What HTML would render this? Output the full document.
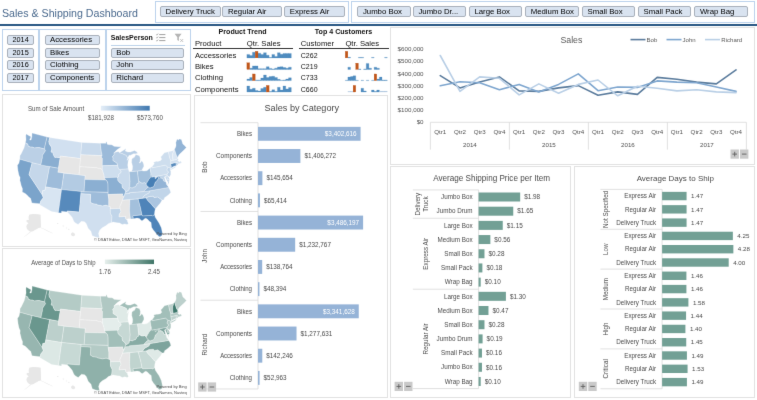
<!DOCTYPE html>
<html><head><meta charset="utf-8"><title>Sales &amp; Shipping Dashboard</title>
<style>
html,body{margin:0;padding:0;background:#fff;}
body{width:757px;height:400px;position:relative;overflow:hidden;filter:url(#soft);font-family:"Liberation Sans", sans-serif;}
svg text{font-family:"Liberation Sans", sans-serif;}
.abs{position:absolute;}
#title{left:1.6px;top:4.7px;font-size:11.7px;color:#4b6a8e;white-space:nowrap;transform-origin:0 0;transform:scaleX(0.909);line-height:16px;}
#rule{left:0;top:24px;width:757px;height:2px;background:#2a5884;}
.slbox{border:1px solid #bcd3ec;background:#fff;box-sizing:border-box;}
.btn{position:absolute;box-sizing:border-box;border:1px solid #a9b1bb;border-radius:2px;background:#d9e3f0;font-size:7.8px;line-height:8px;color:#000;white-space:nowrap;overflow:hidden;padding-left:4.5px;}
.panel{border:1px solid #e2e2e2;box-sizing:border-box;background:#fff;}
.tt{position:absolute;font-size:7.7px;line-height:9px;color:#111;white-space:nowrap;}
.tb{font-weight:700;font-size:7.1px;}

</style></head><body>
<svg width="0" height="0" style="position:absolute"><defs><filter id="soft" x="0" y="0" width="100%" height="100%" color-interpolation-filters="sRGB"><feConvolveMatrix order="3" kernelMatrix="0.0052 0.0619 0.0052 0.0619 0.7314 0.0619 0.0052 0.0619 0.0052" divisor="1" edgeMode="duplicate" preserveAlpha="true"/></filter></defs></svg>
<div id="title" class="abs">Sales &amp; Shipping Dashboard</div>
<div id="rule" class="abs"></div>
<div class="abs slbox" style="left:155px;top:1px;width:193.5px;height:22px"></div>
<div class="btn" style="left:160px;top:6px;width:60.8px;height:11px;line-height:9.4px">Delivery Truck</div>
<div class="btn" style="left:222.4px;top:6px;width:59.6px;height:11px;line-height:9.4px">Regular Air</div>
<div class="btn" style="left:284.3px;top:6px;width:60.4px;height:11px;line-height:9.4px">Express Air</div>
<div class="abs slbox" style="left:351px;top:1px;width:403.5px;height:22px"></div>
<div class="btn" style="left:357.4px;top:6px;width:53.4px;height:11px;line-height:9.4px">Jumbo Box</div>
<div class="btn" style="left:412.9px;top:6px;width:53.4px;height:11px;line-height:9.4px">Jumbo Dr...</div>
<div class="btn" style="left:468.9px;top:6px;width:53.4px;height:11px;line-height:9.4px">Large Box</div>
<div class="btn" style="left:525.2px;top:6px;width:53.4px;height:11px;line-height:9.4px">Medium Box</div>
<div class="btn" style="left:582px;top:6px;width:53.4px;height:11px;line-height:9.4px">Small Box</div>
<div class="btn" style="left:638px;top:6px;width:53.4px;height:11px;line-height:9.4px">Small Pack</div>
<div class="btn" style="left:694.4px;top:6px;width:53.4px;height:11px;line-height:9.4px">Wrap Bag</div>
<div class="abs slbox" style="left:2px;top:29px;width:37px;height:62px"></div>
<div class="abs slbox" style="left:39px;top:29px;width:67px;height:62px"></div>
<div class="abs slbox" style="left:106px;top:29px;width:85px;height:62px"></div>
<div class="btn" style="left:7px;top:35.3px;width:27px;height:10px;font-size:7.3px">2014</div>
<div class="btn" style="left:7px;top:47.7px;width:27px;height:10px;font-size:7.3px">2015</div>
<div class="btn" style="left:7px;top:60.1px;width:27px;height:10px;font-size:7.3px">2016</div>
<div class="btn" style="left:7px;top:72.5px;width:27px;height:10px;font-size:7.3px">2017</div>
<div class="btn" style="left:44.5px;top:35.3px;width:55.3px;height:10px">Accessories</div>
<div class="btn" style="left:44.5px;top:47.7px;width:55.3px;height:10px">Bikes</div>
<div class="btn" style="left:44.5px;top:60.1px;width:55.3px;height:10px">Clothing</div>
<div class="btn" style="left:44.5px;top:72.5px;width:55.3px;height:10px">Components</div>
<div class="tt tb" style="left:110.8px;top:33.2px;font-size:7px">SalesPerson</div>
<div class="abs" style="left:110.5px;top:44.6px;width:74.5px;height:0;border-top:1px solid #bcd3ea"></div>
<div class="btn" style="left:110.8px;top:48px;width:73.7px;height:9.8px">Bob</div>
<div class="btn" style="left:110.8px;top:60.3px;width:73.7px;height:9.8px">John</div>
<div class="btn" style="left:110.8px;top:73px;width:73.7px;height:9.8px">Richard</div>
<svg class="abs" style="left:155px;top:32px" width="32" height="12" viewBox="0 0 32 12">
<g stroke="#7f7f7f" stroke-width="0.75" fill="none"><path d="M4.2 2.6H10.4M4.2 5.6H10.4M4.2 8.6H10.4"/><path d="M1.2 2.4l.8.8 1.2-1.7M1.2 5.4l.8.8 1.2-1.7M1.2 8.4l.8.8 1.2-1.7" stroke-width="0.55"/></g>
<path d="M19.6 1.8h7l-2.7 3.4v3.9l-1.6-1.1V5.2z" fill="#b5b5b5"/><path d="M25.2 7l3 3M28.2 7l-3 3" stroke="#a8a8a8" stroke-width="0.65"/>
</svg>
<div class="tt tb" style="left:218.6px;top:28.2px">Product Trend</div>
<div class="tt tb" style="left:314.8px;top:28.2px">Top 4 Customers</div>
<div class="tt" style="left:194.9px;top:38.8px">Product</div>
<div class="tt" style="left:246.8px;top:38.8px">Qtr. Sales</div>
<div class="tt" style="left:300.8px;top:38.8px">Customer</div>
<div class="tt" style="left:345.4px;top:38.8px">Qtr. Sales</div>
<div class="abs" style="left:192.9px;top:47.6px;width:100px;height:1px;background:#333"></div>
<div class="abs" style="left:298.7px;top:47.6px;width:90.5px;height:1px;background:#333"></div>
<div class="tt" style="left:194.9px;top:50.5px">Accessories</div>
<div class="tt" style="left:194.9px;top:61.9px">Bikes</div>
<div class="tt" style="left:194.9px;top:73.1px">Clothing</div>
<div class="tt" style="left:194.9px;top:84.5px">Components</div>
<div class="tt" style="left:300.8px;top:50.5px;font-size:7px">C262</div>
<div class="tt" style="left:300.8px;top:61.9px;font-size:7px">C219</div>
<div class="tt" style="left:300.8px;top:73.1px;font-size:7px">C733</div>
<div class="tt" style="left:300.8px;top:84.5px;font-size:7px">C660</div>
<svg class="abs" style="left:0;top:0" width="757" height="100" viewBox="0 0 757 100"><path d="M246.90 57.90V54.40H249.68V57.90ZM249.68 57.90V55.40H252.45V57.90ZM252.45 57.90V52.27H255.23V57.90ZM258.00 57.90V53.15H260.77V57.90ZM260.77 57.90V54.40H263.55V57.90ZM263.55 57.90V52.65H266.32V57.90ZM266.32 57.90V55.15H269.10V57.90ZM269.10 57.90V57.52H271.88V57.90ZM271.88 57.90V54.40H274.65V57.90ZM274.65 57.90V56.40H277.42V57.90ZM277.43 57.90V52.65H280.20V57.90ZM280.20 57.90V54.15H282.97V57.90ZM282.98 57.90V53.40H285.75V57.90ZM285.75 57.90V53.40H288.52V57.90ZM288.52 57.90V53.40H291.30V57.90Z" fill="#4f8cc0" stroke="#4f8cc0" stroke-width="0.25"/><rect x="255.22" y="51.27" width="2.77" height="6.62" fill="#c0561a" stroke="#c0561a" stroke-width="0.25"/><path d="M249.68 69.40V68.15H252.45V69.40ZM252.45 69.40V65.90H255.23V69.40ZM255.22 69.40V65.90H258.00V69.40ZM258.00 69.40V68.78H260.77V69.40ZM260.77 69.40V68.78H263.55V69.40ZM263.55 69.40V68.78H266.32V69.40ZM266.32 69.40V66.65H269.10V69.40ZM269.10 69.40V68.40H271.88V69.40ZM271.88 69.40V69.03H274.65V69.40ZM274.65 69.40V68.15H277.42V69.40ZM277.43 69.40V66.90H280.20V69.40ZM280.20 69.40V66.65H282.97V69.40ZM282.98 69.40V67.53H285.75V69.40ZM285.75 69.40V68.15H288.52V69.40ZM288.52 69.40V67.15H291.30V69.40Z" fill="#4f8cc0" stroke="#4f8cc0" stroke-width="0.25"/><rect x="246.90" y="62.78" width="2.77" height="6.62" fill="#c0561a" stroke="#c0561a" stroke-width="0.25"/><path d="M246.90 80.60V79.10H249.68V80.60ZM249.68 80.60V77.47H252.45V80.60ZM255.22 80.60V79.97H258.00V80.60ZM258.00 80.60V79.97H260.77V80.60ZM260.77 80.60V78.10H263.55V80.60ZM263.55 80.60V74.97H266.32V80.60ZM266.32 80.60V77.47H269.10V80.60ZM269.10 80.60V76.60H271.88V80.60ZM271.88 80.60V76.22H274.65V80.60ZM274.65 80.60V77.47H277.42V80.60ZM277.43 80.60V79.35H280.20V80.60ZM280.20 80.60V80.22H282.97V80.60ZM282.98 80.60V79.97H285.75V80.60ZM285.75 80.60V79.10H288.52V80.60ZM288.52 80.60V77.85H291.30V80.60Z" fill="#4f8cc0" stroke="#4f8cc0" stroke-width="0.25"/><rect x="252.45" y="73.97" width="2.77" height="6.62" fill="#c0561a" stroke="#c0561a" stroke-width="0.25"/><path d="M246.90 92.00V86.00H249.68V92.00ZM249.68 92.00V89.25H252.45V92.00ZM252.45 92.00V88.25H255.23V92.00ZM255.22 92.00V90.50H258.00V92.00ZM258.00 92.00V91.00H260.77V92.00ZM260.77 92.00V88.50H263.55V92.00ZM263.55 92.00V87.25H266.32V92.00ZM269.10 92.00V91.62H271.88V92.00ZM271.88 92.00V89.75H274.65V92.00ZM274.65 92.00V91.62H277.42V92.00ZM277.43 92.00V87.25H280.20V92.00ZM280.20 92.00V90.12H282.97V92.00ZM282.98 92.00V86.00H285.75V92.00ZM285.75 92.00V88.88H288.52V92.00ZM288.52 92.00V87.62H291.30V92.00Z" fill="#4f8cc0" stroke="#4f8cc0" stroke-width="0.25"/><rect x="266.32" y="85.38" width="2.77" height="6.62" fill="#c0561a" stroke="#c0561a" stroke-width="0.25"/><path d="M347.88 57.90V57.27H350.50V57.90ZM358.38 57.90V57.40H361.00V57.90ZM361.00 57.90V57.40H363.62V57.90ZM371.50 57.90V57.40H374.12V57.90ZM384.62 57.90V57.40H387.25V57.90Z" fill="#4f8cc0" stroke="#4f8cc0" stroke-width="0.25"/><rect x="345.25" y="51.27" width="2.62" height="6.62" fill="#c0561a" stroke="#c0561a" stroke-width="0.25"/><path d="M347.88 69.40V67.15H350.50V69.40ZM358.38 69.40V69.03H361.00V69.40ZM363.62 69.40V69.03H366.25V69.40ZM366.25 69.40V63.40H368.88V69.40ZM368.88 69.40V68.15H371.50V69.40ZM374.12 69.40V67.15H376.75V69.40ZM376.75 69.40V68.15H379.38V69.40Z" fill="#4f8cc0" stroke="#4f8cc0" stroke-width="0.25"/><rect x="355.75" y="63.15" width="2.62" height="6.25" fill="#c0561a" stroke="#c0561a" stroke-width="0.25"/><path d="M345.25 80.60V80.22H347.88V80.60ZM347.88 80.60V77.10H350.50V80.60ZM350.50 80.60V76.60H353.12V80.60ZM353.12 80.60V75.85H355.75V80.60ZM355.75 80.60V80.22H358.38V80.60ZM361.00 80.60V80.22H363.62V80.60ZM366.25 80.60V80.22H368.88V80.60ZM371.50 80.60V80.22H374.12V80.60ZM376.75 80.60V79.10H379.38V80.60ZM379.38 80.60V77.10H382.00V80.60ZM382.00 80.60V79.97H384.62V80.60ZM384.62 80.60V79.97H387.25V80.60Z" fill="#4f8cc0" stroke="#4f8cc0" stroke-width="0.25"/><rect x="374.12" y="73.97" width="2.62" height="6.62" fill="#c0561a" stroke="#c0561a" stroke-width="0.25"/><path d="M361.00 92.00V88.25H363.62V92.00ZM363.62 92.00V91.00H366.25V92.00ZM371.50 92.00V90.12H374.12V92.00ZM374.12 92.00V91.62H376.75V92.00ZM376.75 92.00V90.12H379.38V92.00Z" fill="#4f8cc0" stroke="#4f8cc0" stroke-width="0.25"/><path d="M347.88 92.00V91.49H350.50V92.00ZM350.50 92.00V91.49H353.12V92.00ZM379.38 92.00V91.36H382.00V92.00ZM382.00 92.00V91.36H384.62V92.00ZM384.62 92.00V91.36H387.25V92.00Z" fill="#a9c4de" stroke="#a9c4de" stroke-width="0.25"/><rect x="353.12" y="85.38" width="2.62" height="6.62" fill="#c0561a" stroke="#c0561a" stroke-width="0.25"/></svg>
<div class="abs panel" style="left:390px;top:27px;width:365px;height:138px"></div>
<svg class="abs" style="left:0;top:0" width="757" height="400" viewBox="0 0 757 400"><text x="571.40" y="42.68" font-size="8.8" text-anchor="middle" fill="#595959" font-weight="400">Sales</text><text x="423.60" y="51.19" font-size="6.25" text-anchor="end" fill="#505050" font-weight="400">$600,000</text><text x="423.60" y="63.37" font-size="6.25" text-anchor="end" fill="#505050" font-weight="400">$500,000</text><text x="423.60" y="75.55" font-size="6.25" text-anchor="end" fill="#505050" font-weight="400">$400,000</text><text x="423.60" y="87.73" font-size="6.25" text-anchor="end" fill="#505050" font-weight="400">$300,000</text><text x="423.60" y="99.91" font-size="6.25" text-anchor="end" fill="#505050" font-weight="400">$200,000</text><text x="423.60" y="112.09" font-size="6.25" text-anchor="end" fill="#505050" font-weight="400">$100,000</text><text x="423.60" y="124.27" font-size="6.25" text-anchor="end" fill="#505050" font-weight="400">$0</text><line x1="430.40" y1="122.30" x2="746.30" y2="122.30" stroke="#d9d9d9" stroke-width="0.8"/><line x1="430.40" y1="122.30" x2="430.40" y2="149.60" stroke="#d9d9d9" stroke-width="0.8"/><line x1="509.40" y1="122.30" x2="509.40" y2="149.60" stroke="#d9d9d9" stroke-width="0.8"/><line x1="588.40" y1="122.30" x2="588.40" y2="149.60" stroke="#d9d9d9" stroke-width="0.8"/><line x1="667.40" y1="122.30" x2="667.40" y2="149.60" stroke="#d9d9d9" stroke-width="0.8"/><line x1="746.40" y1="122.30" x2="746.40" y2="149.60" stroke="#d9d9d9" stroke-width="0.8"/><text x="440.25" y="133.57" font-size="6.2" text-anchor="middle" fill="#505050" font-weight="400">Qtr1</text><text x="459.97" y="133.57" font-size="6.2" text-anchor="middle" fill="#505050" font-weight="400">Qtr2</text><text x="479.69" y="133.57" font-size="6.2" text-anchor="middle" fill="#505050" font-weight="400">Qtr3</text><text x="499.41" y="133.57" font-size="6.2" text-anchor="middle" fill="#505050" font-weight="400">Qtr4</text><text x="519.13" y="133.57" font-size="6.2" text-anchor="middle" fill="#505050" font-weight="400">Qtr1</text><text x="538.85" y="133.57" font-size="6.2" text-anchor="middle" fill="#505050" font-weight="400">Qtr2</text><text x="558.57" y="133.57" font-size="6.2" text-anchor="middle" fill="#505050" font-weight="400">Qtr3</text><text x="578.29" y="133.57" font-size="6.2" text-anchor="middle" fill="#505050" font-weight="400">Qtr4</text><text x="598.01" y="133.57" font-size="6.2" text-anchor="middle" fill="#505050" font-weight="400">Qtr1</text><text x="617.73" y="133.57" font-size="6.2" text-anchor="middle" fill="#505050" font-weight="400">Qtr2</text><text x="637.45" y="133.57" font-size="6.2" text-anchor="middle" fill="#505050" font-weight="400">Qtr3</text><text x="657.17" y="133.57" font-size="6.2" text-anchor="middle" fill="#505050" font-weight="400">Qtr4</text><text x="676.89" y="133.57" font-size="6.2" text-anchor="middle" fill="#505050" font-weight="400">Qtr1</text><text x="696.61" y="133.57" font-size="6.2" text-anchor="middle" fill="#505050" font-weight="400">Qtr2</text><text x="716.33" y="133.57" font-size="6.2" text-anchor="middle" fill="#505050" font-weight="400">Qtr3</text><text x="736.05" y="133.57" font-size="6.2" text-anchor="middle" fill="#505050" font-weight="400">Qtr4</text><text x="469.90" y="147.07" font-size="6.2" text-anchor="middle" fill="#505050" font-weight="400">2014</text><text x="548.90" y="147.07" font-size="6.2" text-anchor="middle" fill="#505050" font-weight="400">2015</text><text x="627.90" y="147.07" font-size="6.2" text-anchor="middle" fill="#505050" font-weight="400">2016</text><text x="706.90" y="147.07" font-size="6.2" text-anchor="middle" fill="#505050" font-weight="400">2017</text><polyline points="440.25,75.60 459.97,87.90 479.69,82.10 499.41,76.90 519.13,90.90 538.85,91.40 558.57,87.90 578.29,85.60 598.01,95.20 617.73,91.90 637.45,94.40 657.17,77.40 676.89,79.20 696.61,82.10 716.33,83.90 736.05,69.90" fill="none" stroke="#5b7c9d" stroke-width="1.6" stroke-linejoin="round" stroke-linecap="round"/><polyline points="440.25,85.80 459.97,81.80 479.69,82.70 499.41,89.70 519.13,84.40 538.85,91.90 558.57,84.40 578.29,73.90 598.01,90.70 617.73,87.00 637.45,87.40 657.17,80.90 676.89,82.10 696.61,82.70 716.33,87.00 736.05,91.40" fill="none" stroke="#7ea6cf" stroke-width="1.6" stroke-linejoin="round" stroke-linecap="round"/><polyline points="440.25,55.50 459.97,91.40 479.69,76.90 499.41,78.30 519.13,94.90 538.85,83.90 558.57,93.20 578.29,84.40 598.01,80.00 617.73,95.80 637.45,86.20 657.17,88.20 676.89,90.90 696.61,89.70 716.33,91.90 736.05,92.60" fill="none" stroke="#b9cfe6" stroke-width="1.6" stroke-linejoin="round" stroke-linecap="round"/><line x1="630.50" y1="39.60" x2="645.50" y2="39.60" stroke="#5b7c9d" stroke-width="1.6"/><text x="646.50" y="41.72" font-size="6.05" text-anchor="start" fill="#595959" font-weight="400">Bob</text><line x1="666.50" y1="39.60" x2="681.50" y2="39.60" stroke="#7ea6cf" stroke-width="1.6"/><text x="682.50" y="41.72" font-size="6.05" text-anchor="start" fill="#595959" font-weight="400">John</text><line x1="705.00" y1="39.60" x2="720.00" y2="39.60" stroke="#b9cfe6" stroke-width="1.6"/><text x="721.30" y="41.72" font-size="6.05" text-anchor="start" fill="#595959" font-weight="400">Richard</text><rect x="730.50" y="149.50" width="8.40" height="9.20" fill="#c9c9c9"/><rect x="740.00" y="149.50" width="8.40" height="9.20" fill="#c9c9c9"/><path d="M732.4 154.1H737.0M734.7 151.8V156.4" stroke="#5a5a5a" stroke-width="0.85" fill="none"/><path d="M741.9 154.1H746.5" stroke="#5a5a5a" stroke-width="0.85" fill="none"/></svg>
<div class="abs panel" style="left:194px;top:95px;width:194px;height:303px"></div>
<svg class="abs" style="left:0;top:0" width="757" height="400" viewBox="0 0 757 400"><text x="301.80" y="111.00" font-size="9.15" text-anchor="middle" fill="#4a4a4a" font-weight="400">Sales by Category</text><line x1="200.50" y1="122.70" x2="258.00" y2="122.70" stroke="#d9d9d9" stroke-width="0.8"/><line x1="200.50" y1="211.46" x2="258.00" y2="211.46" stroke="#d9d9d9" stroke-width="0.8"/><line x1="200.50" y1="300.22" x2="258.00" y2="300.22" stroke="#d9d9d9" stroke-width="0.8"/><line x1="200.50" y1="388.98" x2="258.00" y2="388.98" stroke="#d9d9d9" stroke-width="0.8"/><line x1="258.00" y1="122.70" x2="258.00" y2="388.98" stroke="#d9d9d9" stroke-width="0.8"/><rect x="258.00" y="126.85" width="102.59" height="13.90" fill="#95b3d7"/><text x="252.00" y="136.02" font-size="6.35" text-anchor="end" fill="#4a4a4a" font-weight="400" transform="translate(252 0) scale(0.97 1) translate(-252 0)">Bikes</text><text x="356.59" y="136.02" font-size="6.35" text-anchor="end" fill="#ffffff" font-weight="400">$3,402,616</text><rect x="258.00" y="149.04" width="42.40" height="13.90" fill="#95b3d7"/><text x="252.00" y="158.21" font-size="6.35" text-anchor="end" fill="#4a4a4a" font-weight="400">Components</text><text x="304.40" y="158.21" font-size="6.35" text-anchor="start" fill="#4a4a4a" font-weight="400">$1,406,272</text><rect x="258.00" y="171.23" width="4.39" height="13.90" fill="#95b3d7"/><text x="252.00" y="180.40" font-size="6.35" text-anchor="end" fill="#4a4a4a" font-weight="400" transform="translate(252 0) scale(0.93 1) translate(-252 0)">Accessories</text><text x="266.39" y="180.40" font-size="6.35" text-anchor="start" fill="#4a4a4a" font-weight="400">$145,654</text><rect x="258.00" y="193.42" width="1.97" height="13.90" fill="#95b3d7"/><text x="252.00" y="202.59" font-size="6.35" text-anchor="end" fill="#4a4a4a" font-weight="400" transform="translate(252 0) scale(0.96 1) translate(-252 0)">Clothing</text><text x="263.97" y="202.59" font-size="6.35" text-anchor="start" fill="#4a4a4a" font-weight="400">$65,414</text><rect x="258.00" y="215.61" width="105.11" height="13.90" fill="#95b3d7"/><text x="252.00" y="224.78" font-size="6.35" text-anchor="end" fill="#4a4a4a" font-weight="400" transform="translate(252 0) scale(0.97 1) translate(-252 0)">Bikes</text><text x="359.11" y="224.78" font-size="6.35" text-anchor="end" fill="#ffffff" font-weight="400">$3,486,197</text><rect x="258.00" y="237.80" width="37.17" height="13.90" fill="#95b3d7"/><text x="252.00" y="246.97" font-size="6.35" text-anchor="end" fill="#4a4a4a" font-weight="400">Components</text><text x="299.17" y="246.97" font-size="6.35" text-anchor="start" fill="#4a4a4a" font-weight="400">$1,232,767</text><rect x="258.00" y="259.99" width="4.18" height="13.90" fill="#95b3d7"/><text x="252.00" y="269.16" font-size="6.35" text-anchor="end" fill="#4a4a4a" font-weight="400" transform="translate(252 0) scale(0.93 1) translate(-252 0)">Accessories</text><text x="266.18" y="269.16" font-size="6.35" text-anchor="start" fill="#4a4a4a" font-weight="400">$138,764</text><rect x="258.00" y="282.18" width="1.46" height="13.90" fill="#95b3d7"/><text x="252.00" y="291.35" font-size="6.35" text-anchor="end" fill="#4a4a4a" font-weight="400" transform="translate(252 0) scale(0.96 1) translate(-252 0)">Clothing</text><text x="263.46" y="291.35" font-size="6.35" text-anchor="start" fill="#4a4a4a" font-weight="400">$48,394</text><rect x="258.00" y="304.37" width="100.75" height="13.90" fill="#95b3d7"/><text x="252.00" y="313.54" font-size="6.35" text-anchor="end" fill="#4a4a4a" font-weight="400" transform="translate(252 0) scale(0.97 1) translate(-252 0)">Bikes</text><text x="354.75" y="313.54" font-size="6.35" text-anchor="end" fill="#ffffff" font-weight="400">$3,341,628</text><rect x="258.00" y="326.56" width="38.52" height="13.90" fill="#95b3d7"/><text x="252.00" y="335.73" font-size="6.35" text-anchor="end" fill="#4a4a4a" font-weight="400">Components</text><text x="300.52" y="335.73" font-size="6.35" text-anchor="start" fill="#4a4a4a" font-weight="400">$1,277,631</text><rect x="258.00" y="348.75" width="4.29" height="13.90" fill="#95b3d7"/><text x="252.00" y="357.92" font-size="6.35" text-anchor="end" fill="#4a4a4a" font-weight="400" transform="translate(252 0) scale(0.93 1) translate(-252 0)">Accessories</text><text x="266.29" y="357.92" font-size="6.35" text-anchor="start" fill="#4a4a4a" font-weight="400">$142,246</text><rect x="258.00" y="370.94" width="1.60" height="13.90" fill="#95b3d7"/><text x="252.00" y="380.11" font-size="6.35" text-anchor="end" fill="#4a4a4a" font-weight="400" transform="translate(252 0) scale(0.96 1) translate(-252 0)">Clothing</text><text x="263.60" y="380.11" font-size="6.35" text-anchor="start" fill="#4a4a4a" font-weight="400">$52,963</text><text x="204.90" y="169.30" font-size="6.35" text-anchor="middle" fill="#4a4a4a" font-weight="400" transform="rotate(-90 204.9 167.08)">Bob</text><text x="204.90" y="258.06" font-size="6.35" text-anchor="middle" fill="#4a4a4a" font-weight="400" transform="rotate(-90 204.9 255.84000000000003)">John</text><text x="204.90" y="346.82" font-size="6.35" text-anchor="middle" fill="#4a4a4a" font-weight="400" transform="rotate(-90 204.9 344.6)">Richard</text><rect x="198.20" y="382.40" width="8.40" height="9.20" fill="#c9c9c9"/><rect x="207.70" y="382.40" width="8.40" height="9.20" fill="#c9c9c9"/><path d="M200.1 387.0H204.7M202.39999999999998 384.7V389.29999999999995" stroke="#5a5a5a" stroke-width="0.85" fill="none"/><path d="M209.6 387.0H214.2" stroke="#5a5a5a" stroke-width="0.85" fill="none"/></svg>
<div class="abs panel" style="left:390px;top:166.2px;width:181.1px;height:231.6px"></div>
<svg class="abs" style="left:0;top:0" width="757" height="400" viewBox="0 0 757 400"><text x="491.60" y="180.85" font-size="8.14" text-anchor="middle" fill="#4a4a4a" font-weight="400">Average Shipping Price per Item</text><line x1="412.90" y1="189.90" x2="478.60" y2="189.90" stroke="#d9d9d9" stroke-width="0.8"/><line x1="412.90" y1="218.28" x2="478.60" y2="218.28" stroke="#d9d9d9" stroke-width="0.8"/><line x1="412.90" y1="289.23" x2="478.60" y2="289.23" stroke="#d9d9d9" stroke-width="0.8"/><line x1="412.90" y1="388.56" x2="478.60" y2="388.56" stroke="#d9d9d9" stroke-width="0.8"/><line x1="478.60" y1="189.90" x2="478.60" y2="388.56" stroke="#d9d9d9" stroke-width="0.8"/><rect x="478.60" y="192.50" width="41.58" height="9.00" fill="#72a095"/><text x="472.60" y="199.20" font-size="6.3" text-anchor="end" fill="#4a4a4a" font-weight="400">Jumbo Box</text><text x="524.18" y="199.24" font-size="6.4" text-anchor="start" fill="#4a4a4a" font-weight="400">$1.98</text><rect x="478.60" y="206.69" width="34.65" height="9.00" fill="#72a095"/><text x="472.60" y="213.39" font-size="6.3" text-anchor="end" fill="#4a4a4a" font-weight="400">Jumbo Drum</text><text x="517.25" y="213.43" font-size="6.4" text-anchor="start" fill="#4a4a4a" font-weight="400">$1.65</text><rect x="478.60" y="220.88" width="24.15" height="9.00" fill="#72a095"/><text x="472.60" y="227.58" font-size="6.3" text-anchor="end" fill="#4a4a4a" font-weight="400">Large Box</text><text x="506.75" y="227.62" font-size="6.4" text-anchor="start" fill="#4a4a4a" font-weight="400">$1.15</text><rect x="478.60" y="235.06" width="11.76" height="9.00" fill="#72a095"/><text x="472.60" y="241.77" font-size="6.3" text-anchor="end" fill="#4a4a4a" font-weight="400">Medium Box</text><text x="494.36" y="241.81" font-size="6.4" text-anchor="start" fill="#4a4a4a" font-weight="400">$0.56</text><rect x="478.60" y="249.25" width="5.88" height="9.00" fill="#72a095"/><text x="472.60" y="255.96" font-size="6.3" text-anchor="end" fill="#4a4a4a" font-weight="400">Small Box</text><text x="488.48" y="256.00" font-size="6.4" text-anchor="start" fill="#4a4a4a" font-weight="400">$0.28</text><rect x="478.60" y="263.44" width="3.78" height="9.00" fill="#72a095"/><text x="472.60" y="270.15" font-size="6.3" text-anchor="end" fill="#4a4a4a" font-weight="400">Small Pack</text><text x="486.38" y="270.19" font-size="6.4" text-anchor="start" fill="#4a4a4a" font-weight="400">$0.18</text><rect x="478.60" y="277.63" width="2.10" height="9.00" fill="#72a095"/><text x="472.60" y="284.34" font-size="6.3" text-anchor="end" fill="#4a4a4a" font-weight="400">Wrap Bag</text><text x="484.70" y="284.38" font-size="6.4" text-anchor="start" fill="#4a4a4a" font-weight="400">$0.10</text><rect x="478.60" y="291.82" width="27.30" height="9.00" fill="#72a095"/><text x="472.60" y="298.53" font-size="6.3" text-anchor="end" fill="#4a4a4a" font-weight="400">Large Box</text><text x="509.90" y="298.56" font-size="6.4" text-anchor="start" fill="#4a4a4a" font-weight="400">$1.30</text><rect x="478.60" y="306.01" width="9.87" height="9.00" fill="#72a095"/><text x="472.60" y="312.72" font-size="6.3" text-anchor="end" fill="#4a4a4a" font-weight="400">Medium Box</text><text x="492.47" y="312.75" font-size="6.4" text-anchor="start" fill="#4a4a4a" font-weight="400">$0.47</text><rect x="478.60" y="320.21" width="5.88" height="9.00" fill="#72a095"/><text x="472.60" y="326.91" font-size="6.3" text-anchor="end" fill="#4a4a4a" font-weight="400">Small Box</text><text x="488.48" y="326.95" font-size="6.4" text-anchor="start" fill="#4a4a4a" font-weight="400">$0.28</text><rect x="478.60" y="334.39" width="3.99" height="9.00" fill="#72a095"/><text x="472.60" y="341.10" font-size="6.3" text-anchor="end" fill="#4a4a4a" font-weight="400">Jumbo Drum</text><text x="486.59" y="341.13" font-size="6.4" text-anchor="start" fill="#4a4a4a" font-weight="400">$0.19</text><rect x="478.60" y="348.59" width="3.36" height="9.00" fill="#72a095"/><text x="472.60" y="355.29" font-size="6.3" text-anchor="end" fill="#4a4a4a" font-weight="400">Small Pack</text><text x="485.96" y="355.33" font-size="6.4" text-anchor="start" fill="#4a4a4a" font-weight="400">$0.16</text><rect x="478.60" y="362.77" width="3.36" height="9.00" fill="#72a095"/><text x="472.60" y="369.48" font-size="6.3" text-anchor="end" fill="#4a4a4a" font-weight="400">Jumbo Box</text><text x="485.96" y="369.51" font-size="6.4" text-anchor="start" fill="#4a4a4a" font-weight="400">$0.16</text><rect x="478.60" y="376.97" width="2.10" height="9.00" fill="#72a095"/><text x="472.60" y="383.67" font-size="6.3" text-anchor="end" fill="#4a4a4a" font-weight="400">Wrap Bag</text><text x="484.70" y="383.71" font-size="6.4" text-anchor="start" fill="#4a4a4a" font-weight="400">$0.10</text><text x="417.60" y="206.30" font-size="6.3" text-anchor="middle" fill="#4a4a4a" font-weight="400" transform="rotate(-90 417.6 204.09)">Delivery</text><text x="426.20" y="206.30" font-size="6.3" text-anchor="middle" fill="#4a4a4a" font-weight="400" transform="rotate(-90 426.2 204.09)">Truck</text><text x="425.50" y="255.96" font-size="6.3" text-anchor="middle" fill="#4a4a4a" font-weight="400" transform="rotate(-90 425.5 253.755)">Express Air</text><text x="425.50" y="341.10" font-size="6.3" text-anchor="middle" fill="#4a4a4a" font-weight="400" transform="rotate(-90 425.5 338.895)">Regular Air</text><rect x="394.60" y="381.80" width="8.40" height="9.20" fill="#c9c9c9"/><rect x="404.10" y="381.80" width="8.40" height="9.20" fill="#c9c9c9"/><path d="M396.5 386.40000000000003H401.1M398.8 384.1V388.7" stroke="#5a5a5a" stroke-width="0.85" fill="none"/><path d="M406.0 386.40000000000003H410.6" stroke="#5a5a5a" stroke-width="0.85" fill="none"/></svg>
<div class="abs panel" style="left:573.7px;top:166.2px;width:181.1px;height:231.6px"></div>
<svg class="abs" style="left:0;top:0" width="757" height="400" viewBox="0 0 757 400"><text x="675.30" y="180.80" font-size="8.0" text-anchor="middle" fill="#4a4a4a" font-weight="400">Average Days to Ship</text><line x1="600.40" y1="189.40" x2="662.10" y2="189.40" stroke="#d9d9d9" stroke-width="0.8"/><line x1="600.40" y1="229.27" x2="662.10" y2="229.27" stroke="#d9d9d9" stroke-width="0.8"/><line x1="600.40" y1="269.14" x2="662.10" y2="269.14" stroke="#d9d9d9" stroke-width="0.8"/><line x1="600.40" y1="309.01" x2="662.10" y2="309.01" stroke="#d9d9d9" stroke-width="0.8"/><line x1="600.40" y1="348.88" x2="662.10" y2="348.88" stroke="#d9d9d9" stroke-width="0.8"/><line x1="600.40" y1="388.75" x2="662.10" y2="388.75" stroke="#d9d9d9" stroke-width="0.8"/><line x1="662.10" y1="189.40" x2="662.10" y2="388.75" stroke="#d9d9d9" stroke-width="0.8"/><rect x="662.10" y="191.85" width="24.48" height="8.40" fill="#72a095"/><text x="656.10" y="198.25" font-size="6.3" text-anchor="end" fill="#4a4a4a" font-weight="400">Express Air</text><text x="691.08" y="198.22" font-size="6.2" text-anchor="start" fill="#4a4a4a" font-weight="400">1.47</text><rect x="662.10" y="205.14" width="24.48" height="8.40" fill="#72a095"/><text x="656.10" y="211.54" font-size="6.3" text-anchor="end" fill="#4a4a4a" font-weight="400">Regular Air</text><text x="691.08" y="211.50" font-size="6.2" text-anchor="start" fill="#4a4a4a" font-weight="400">1.47</text><rect x="662.10" y="218.43" width="24.48" height="8.40" fill="#72a095"/><text x="656.10" y="224.83" font-size="6.3" text-anchor="end" fill="#4a4a4a" font-weight="400">Delivery Truck</text><text x="691.08" y="224.79" font-size="6.2" text-anchor="start" fill="#4a4a4a" font-weight="400">1.47</text><rect x="662.10" y="231.72" width="70.76" height="8.40" fill="#72a095"/><text x="656.10" y="238.12" font-size="6.3" text-anchor="end" fill="#4a4a4a" font-weight="400">Express Air</text><text x="737.36" y="238.09" font-size="6.2" text-anchor="start" fill="#4a4a4a" font-weight="400">4.25</text><rect x="662.10" y="245.00" width="71.26" height="8.40" fill="#72a095"/><text x="656.10" y="251.41" font-size="6.3" text-anchor="end" fill="#4a4a4a" font-weight="400">Regular Air</text><text x="737.86" y="251.37" font-size="6.2" text-anchor="start" fill="#4a4a4a" font-weight="400">4.28</text><rect x="662.10" y="258.30" width="66.60" height="8.40" fill="#72a095"/><text x="656.10" y="264.70" font-size="6.3" text-anchor="end" fill="#4a4a4a" font-weight="400">Delivery Truck</text><text x="733.20" y="264.67" font-size="6.2" text-anchor="start" fill="#4a4a4a" font-weight="400">4.00</text><rect x="662.10" y="271.58" width="24.31" height="8.40" fill="#72a095"/><text x="656.10" y="277.99" font-size="6.3" text-anchor="end" fill="#4a4a4a" font-weight="400">Express Air</text><text x="690.91" y="277.95" font-size="6.2" text-anchor="start" fill="#4a4a4a" font-weight="400">1.46</text><rect x="662.10" y="284.88" width="24.31" height="8.40" fill="#72a095"/><text x="656.10" y="291.28" font-size="6.3" text-anchor="end" fill="#4a4a4a" font-weight="400">Regular Air</text><text x="690.91" y="291.25" font-size="6.2" text-anchor="start" fill="#4a4a4a" font-weight="400">1.46</text><rect x="662.10" y="298.17" width="26.31" height="8.40" fill="#72a095"/><text x="656.10" y="304.57" font-size="6.3" text-anchor="end" fill="#4a4a4a" font-weight="400">Delivery Truck</text><text x="692.91" y="304.54" font-size="6.2" text-anchor="start" fill="#4a4a4a" font-weight="400">1.58</text><rect x="662.10" y="311.45" width="23.98" height="8.40" fill="#72a095"/><text x="656.10" y="317.86" font-size="6.3" text-anchor="end" fill="#4a4a4a" font-weight="400">Express Air</text><text x="690.58" y="317.82" font-size="6.2" text-anchor="start" fill="#4a4a4a" font-weight="400">1.44</text><rect x="662.10" y="324.75" width="23.31" height="8.40" fill="#72a095"/><text x="656.10" y="331.15" font-size="6.3" text-anchor="end" fill="#4a4a4a" font-weight="400">Regular Air</text><text x="689.91" y="331.12" font-size="6.2" text-anchor="start" fill="#4a4a4a" font-weight="400">1.40</text><rect x="662.10" y="338.04" width="24.14" height="8.40" fill="#72a095"/><text x="656.10" y="344.44" font-size="6.3" text-anchor="end" fill="#4a4a4a" font-weight="400">Delivery Truck</text><text x="690.74" y="344.41" font-size="6.2" text-anchor="start" fill="#4a4a4a" font-weight="400">1.45</text><rect x="662.10" y="351.32" width="24.81" height="8.40" fill="#72a095"/><text x="656.10" y="357.73" font-size="6.3" text-anchor="end" fill="#4a4a4a" font-weight="400">Express Air</text><text x="691.41" y="357.69" font-size="6.2" text-anchor="start" fill="#4a4a4a" font-weight="400">1.49</text><rect x="662.10" y="364.62" width="25.47" height="8.40" fill="#72a095"/><text x="656.10" y="371.02" font-size="6.3" text-anchor="end" fill="#4a4a4a" font-weight="400">Regular Air</text><text x="692.07" y="370.99" font-size="6.2" text-anchor="start" fill="#4a4a4a" font-weight="400">1.53</text><rect x="662.10" y="377.91" width="24.81" height="8.40" fill="#72a095"/><text x="656.10" y="384.31" font-size="6.3" text-anchor="end" fill="#4a4a4a" font-weight="400">Delivery Truck</text><text x="691.41" y="384.28" font-size="6.2" text-anchor="start" fill="#4a4a4a" font-weight="400">1.49</text><text x="605.60" y="211.54" font-size="6.3" text-anchor="middle" fill="#4a4a4a" font-weight="400" transform="rotate(-90 605.6 209.335)">Not Specified</text><text x="605.60" y="251.41" font-size="6.3" text-anchor="middle" fill="#4a4a4a" font-weight="400" transform="rotate(-90 605.6 249.20499999999998)">Low</text><text x="605.60" y="291.28" font-size="6.3" text-anchor="middle" fill="#4a4a4a" font-weight="400" transform="rotate(-90 605.6 289.075)">Medium</text><text x="605.60" y="331.15" font-size="6.3" text-anchor="middle" fill="#4a4a4a" font-weight="400" transform="rotate(-90 605.6 328.945)">High</text><text x="605.60" y="371.02" font-size="6.3" text-anchor="middle" fill="#4a4a4a" font-weight="400" transform="rotate(-90 605.6 368.815)">Critical</text><rect x="578.80" y="381.80" width="8.40" height="9.20" fill="#c9c9c9"/><rect x="588.30" y="381.80" width="8.40" height="9.20" fill="#c9c9c9"/><path d="M580.6999999999999 386.40000000000003H585.3M583.0 384.1V388.7" stroke="#5a5a5a" stroke-width="0.85" fill="none"/><path d="M590.1999999999999 386.40000000000003H594.8" stroke="#5a5a5a" stroke-width="0.85" fill="none"/></svg>
<div class="abs panel" style="left:1.7px;top:94.2px;width:189.3px;height:152.4px"></div>
<div class="abs panel" style="left:1.7px;top:248.3px;width:189.3px;height:149.8px"></div>
<svg class="abs" style="left:0;top:0" width="757" height="400" viewBox="0 0 757 400"><defs><linearGradient id="gb" x1="0" x2="1"><stop offset="0" stop-color="#e4eef8"/><stop offset="1" stop-color="#3f78b0"/></linearGradient><linearGradient id="gg" x1="0" x2="1"><stop offset="0" stop-color="#e6efec"/><stop offset="1" stop-color="#3f7567"/></linearGradient></defs><text x="28.00" y="111.02" font-size="7.2" text-anchor="start" fill="#505050" font-weight="400" transform="translate(28 0) scale(0.858 1) translate(-28 0)">Sum of Sale Amount</text><rect x="100.90" y="105.80" width="48.80" height="4.80" fill="url(#gb)"/><text x="100.90" y="119.92" font-size="7.2" text-anchor="middle" fill="#505050" font-weight="400" transform="translate(100.9 0) scale(0.862 1) translate(-100.9 0)">$181,928</text><text x="150.00" y="119.92" font-size="7.2" text-anchor="middle" fill="#505050" font-weight="400" transform="translate(150 0) scale(0.862 1) translate(-150 0)">$573,760</text><text x="31.20" y="264.52" font-size="7.2" text-anchor="start" fill="#505050" font-weight="400" transform="translate(31.2 0) scale(0.831 1) translate(-31.2 0)">Average of Days to Ship</text><rect x="104.90" y="259.60" width="49.10" height="4.50" fill="url(#gg)"/><text x="105.00" y="274.32" font-size="7.2" text-anchor="middle" fill="#505050" font-weight="400" transform="translate(105 0) scale(0.856 1) translate(-105 0)">1.76</text><text x="153.90" y="274.32" font-size="7.2" text-anchor="middle" fill="#505050" font-weight="400" transform="translate(153.9 0) scale(0.856 1) translate(-153.9 0)">2.45</text><g stroke="#ffffff" stroke-width="0.27" stroke-linejoin="round"><polygon points="47.1,137.0 32.0,133.1 31.9,136.5 31.1,140.0 29.6,140.0 31.0,136.8 29.6,136.0 26.1,134.0 25.8,135.9 26.0,140.0 25.4,142.8 27.6,143.9 28.3,146.2 30.3,147.0 32.6,147.2 34.4,147.9 37.9,147.6 39.0,147.6 44.7,149.0 44.7,147.2 47.1,137.0" fill="#8eb1d4"/><polygon points="25.4,142.8 27.6,143.9 28.3,146.2 30.3,147.0 32.6,147.2 34.4,147.9 37.9,147.6 39.0,147.6 44.7,149.0 45.5,150.8 44.0,153.0 42.4,155.6 42.4,157.7 40.8,164.9 32.1,162.8 19.8,159.3 19.9,155.7 21.2,153.7 24.1,147.7" fill="#bbd0e6"/><polygon points="19.8,159.3 32.1,162.8 29.0,174.7 42.2,194.7 43.3,197.8 40.7,201.1 40.1,203.8 31.9,202.9 30.6,198.3 28.8,197.0 27.5,195.4 25.2,193.4 22.3,191.9 22.5,188.8 21.2,185.5 20.6,182.7 19.9,180.4 20.1,177.4 18.9,175.0 17.9,170.3 17.4,165.3 18.9,163.3" fill="#7ba4cb"/><polygon points="32.1,162.8 49.6,166.7 45.7,186.9 45.1,190.2 42.7,190.6 42.2,194.7 29.0,174.7" fill="#c5d7ea"/><polygon points="49.7,137.6 48.8,141.6 49.3,143.9 50.9,146.3 51.7,147.8 51.7,149.6 51.2,151.6 51.5,152.3 52.7,151.9 53.0,153.6 53.9,155.8 54.9,157.5 56.6,157.3 57.8,157.6 58.9,157.5 59.3,157.0 60.1,158.3 58.5,168.3 40.8,164.9 42.4,157.7 42.4,155.6 44.0,153.0 45.5,150.8 44.7,149.0 44.7,147.2 47.1,137.0" fill="#8aaed1"/><polygon points="49.7,137.6 81.8,142.4 80.5,158.6 60.4,156.1 60.1,158.3 59.3,157.0 58.9,157.5 57.8,157.6 56.6,157.3 54.9,157.5 53.9,155.8 53.0,153.6 52.7,151.9 51.5,152.3 51.2,151.6 51.7,149.6 51.7,147.8 50.9,146.3 49.3,143.9 48.8,141.6 49.7,137.6" fill="#d1e0f0"/><polygon points="60.4,156.1 80.5,158.6 79.1,174.9 57.8,172.3" fill="#e6e6e6"/><polygon points="49.6,166.7 58.5,168.3 57.8,172.3 63.9,173.2 61.6,189.6 45.7,186.9" fill="#9ebcda"/><polygon points="63.9,173.2 85.2,175.4 84.1,191.8 61.6,189.6" fill="#b3cbe3"/><polygon points="45.7,186.9 61.6,189.6 58.4,212.7 51.5,211.6 39.6,204.7 40.1,203.8 40.7,201.1 43.3,197.8 42.2,194.7 42.7,190.6 45.1,190.2 45.7,186.9" fill="#d8e5f2"/><polygon points="61.6,189.6 81.1,191.6 79.3,212.1 67.1,211.0 67.3,211.9 61.6,211.2 61.4,213.1 58.4,212.7" fill="#578abc"/><polygon points="81.8,142.4 100.3,143.3 100.8,147.3 101.3,151.4 102.0,154.2 102.1,155.7 80.8,154.7" fill="#c9daec"/><polygon points="80.8,154.7 102.1,155.7 101.2,157.1 102.4,158.3 102.3,165.7 102.3,167.3 102.3,169.8 100.7,168.8 99.5,168.3 98.0,168.3 96.2,167.7 79.8,166.7" fill="#e6e6e6"/><polygon points="79.8,166.7 96.2,167.7 98.0,168.3 99.5,168.3 100.7,168.8 102.3,169.8 103.3,172.7 104.0,174.9 104.4,177.7 105.8,180.1 84.9,179.5 85.2,175.4 79.1,174.9" fill="#e6e6e6"/><polygon points="84.9,179.5 105.8,180.1 107.1,180.9 108.0,183.8 108.1,192.4 84.1,191.8" fill="#8bafd2"/><polygon points="81.1,191.6 108.1,192.4 108.1,194.5 108.8,199.0 108.8,206.3 108.8,206.3 106.0,205.2 102.3,206.1 100.3,205.4 97.9,205.2 96.6,204.3 92.9,203.8 90.3,202.3 90.6,194.3 80.9,193.7" fill="#9ebcda"/><polygon points="80.9,193.7 90.6,194.3 90.3,202.3 92.9,203.8 96.6,204.3 97.9,205.2 100.3,205.4 102.3,206.1 106.0,205.2 108.8,206.3 110.3,206.6 110.3,208.9 110.4,213.2 112.0,216.2 111.8,220.3 111.3,222.4 108.3,223.7 105.8,225.7 102.2,227.8 99.7,230.2 98.5,233.4 99.4,237.5 98.5,237.7 95.5,237.0 92.2,235.7 90.9,231.2 88.1,228.2 86.2,223.6 84.5,221.7 81.4,221.3 79.1,223.6 78.1,224.4 75.5,222.9 73.9,221.6 72.1,217.3 69.0,213.7 67.3,211.9 67.1,211.0 79.3,212.1" fill="#d0dfef"/><polygon points="100.3,143.3 106.0,143.3 105.9,141.8 106.8,142.1 107.2,143.9 107.7,144.5 109.7,144.8 111.3,144.8 112.7,145.2 113.8,146.3 116.0,146.6 118.0,146.7 121.3,146.7 117.0,149.8 114.6,152.2 114.1,152.6 114.1,154.9 112.6,156.5 113.1,158.2 112.9,160.4 115.0,161.8 117.1,163.3 117.7,165.3 102.3,165.7 102.4,158.3 101.2,157.1 102.1,155.7 102.0,154.2 101.3,151.4 100.8,147.3" fill="#9bbad9"/><polygon points="102.3,165.7 117.7,165.3 118.4,168.6 119.6,169.4 121.2,170.9 120.9,172.4 119.9,173.7 118.6,174.4 119.0,176.2 117.7,177.3 117.8,178.2 116.9,177.3 104.4,177.7 104.0,174.9 103.3,172.7 102.3,169.8 102.3,167.3" fill="#cedeee"/><polygon points="104.4,177.7 116.9,177.3 117.8,178.2 117.8,180.2 119.3,182.2 122.1,184.3 122.0,185.3 122.4,187.8 124.5,189.3 125.8,191.7 124.9,193.8 124.3,195.9 122.1,196.0 122.7,193.9 108.1,194.5 108.1,192.4 108.0,183.8 107.1,180.9 105.8,180.1" fill="#8bafd2"/><polygon points="108.1,194.5 122.7,193.9 122.1,196.0 124.3,195.9 123.1,198.5 122.5,200.1 122.0,201.4 120.8,204.4 119.9,206.5 120.1,208.5 110.3,208.9 110.3,206.6 108.8,206.3 108.8,199.0" fill="#e6e6e6"/><polygon points="110.3,208.9 120.1,208.5 121.0,211.4 119.4,214.3 119.0,216.8 125.5,216.4 125.4,218.1 126.4,219.6 127.3,220.0 127.4,221.2 128.4,223.6 127.2,224.5 124.7,223.9 122.2,224.6 119.6,222.9 117.1,222.8 113.2,222.1 111.3,222.4 111.8,220.3 112.0,216.2 110.4,213.2" fill="#c1d5e9"/><polygon points="122.5,200.1 122.0,201.4 120.8,204.4 119.9,206.5 120.1,208.5 121.0,211.4 119.4,214.3 119.0,216.8 125.5,216.4 125.4,218.1 126.4,219.6 128.2,218.7 130.4,218.7 129.5,210.8 129.9,200.0 129.5,199.6" fill="#e6e6e6"/><polygon points="129.5,199.6 138.1,198.8 140.5,207.5 142.0,214.9 132.9,215.9 133.5,218.7 131.8,219.0 130.4,218.7 129.5,210.8 129.9,200.0" fill="#a3c0dc"/><polygon points="138.1,198.8 146.3,197.8 147.2,199.8 148.7,201.6 150.9,203.5 153.4,206.8 155.4,208.7 154.8,211.1 154.4,214.4 152.6,216.2 151.9,215.4 142.6,216.1 142.0,214.9 140.5,207.5" fill="#4f84b9"/><polygon points="133.5,218.7 132.9,215.9 142.0,214.9 142.6,216.1 151.9,215.4 152.6,216.2 154.4,214.4 155.4,217.6 159.0,222.9 161.3,227.8 162.3,232.6 162.0,235.5 160.6,236.4 159.2,236.7 156.5,233.9 154.8,231.7 153.3,229.9 151.6,227.3 151.1,222.4 149.7,221.6 147.0,218.8 145.2,218.3 142.6,220.4 141.3,220.4 139.4,218.5 137.0,218.1" fill="#4f84b9"/><polygon points="146.3,197.8 148.8,196.6 152.9,196.2 153.5,196.3 154.0,197.5 157.7,196.9 162.1,200.1 160.4,203.1 158.4,205.3 156.6,207.5 155.4,208.7 153.4,206.8 150.9,203.5 148.7,201.6 147.2,199.8" fill="#abc5e0"/><polygon points="150.0,190.7 148.9,192.9 147.4,193.7 145.4,194.8 144.0,195.8 143.1,197.2 142.3,198.3 146.3,197.8 148.8,196.6 152.9,196.2 153.5,196.3 154.0,197.5 157.7,196.9 162.1,200.1 164.0,199.7 164.5,197.7 168.0,195.3 170.8,192.4 170.0,189.9 168.6,187.4" fill="#c1d5e9"/><polygon points="124.9,193.8 129.5,193.4 129.3,192.7 143.5,191.5 150.0,190.7 148.9,192.9 147.4,193.7 145.4,194.8 144.0,195.8 143.1,197.2 142.3,198.3 138.1,198.8 129.5,199.6 122.5,200.1 123.1,198.5 124.3,195.9" fill="#c1d5e9"/><polygon points="124.9,193.8 125.8,191.7 127.5,191.1 129.0,189.6 129.1,188.1 130.5,187.4 132.1,188.0 133.6,187.1 135.3,186.7 136.1,185.5 137.0,183.6 138.7,183.1 138.7,181.7 139.7,181.6 140.8,182.7 143.0,183.1 144.5,182.5 146.0,183.7 146.9,185.7 148.5,186.9 146.4,188.6 145.2,190.1 143.5,191.5 129.3,192.7 129.5,193.4" fill="#bbd0e6"/><polygon points="119.6,169.4 121.2,170.9 120.9,172.4 119.9,173.7 118.6,174.4 119.0,176.2 117.7,177.3 117.8,178.2 117.8,180.2 119.3,182.2 122.1,184.3 122.0,185.3 122.4,187.8 124.5,189.3 125.8,191.7 127.5,191.1 129.0,189.6 129.1,188.1 129.8,185.6 130.1,181.6 129.2,171.7 128.2,168.7" fill="#c9daec"/><polygon points="129.2,171.7 137.4,170.9 138.7,181.7 138.7,183.1 137.0,183.6 136.1,185.5 135.3,186.7 133.6,187.1 132.1,188.0 130.5,187.4 129.1,188.1 129.8,185.6 130.1,181.6" fill="#a3c0dc"/><polygon points="137.5,171.1 141.5,170.5 143.9,171.1 146.9,170.7 150.1,168.1 151.0,173.6 150.8,176.0 150.2,178.1 149.0,179.1 148.7,179.7 147.9,181.3 147.2,181.7 147.1,182.7 146.4,183.6 146.0,183.7 144.5,182.5 143.0,183.1 140.8,182.7 139.7,181.6 138.7,181.7" fill="#a3c0dc"/><polygon points="137.4,170.9 141.5,170.5 142.3,169.2 143.8,166.5 143.8,164.9 143.0,162.5 141.7,160.8 140.3,162.7 139.2,163.0 140.1,161.2 140.3,158.3 139.4,155.8 135.7,154.5 135.1,156.1 133.6,158.3 133.6,157.1 131.8,159.3 131.6,162.4 132.6,166.3 132.4,169.6 131.4,171.5" fill="#b8cee5"/><polygon points="119.4,152.8 122.6,153.8 124.4,154.7 126.1,155.3 127.0,156.9 127.8,158.1 129.1,155.3 130.1,155.4 133.4,153.8 135.7,153.8 137.9,153.3 136.3,151.6 134.6,150.5 133.1,151.0 130.4,152.1 127.8,152.1 125.2,150.9 126.1,148.5 121.9,151.2" fill="#b8cee5"/><polygon points="114.1,152.6 114.6,152.4 118.2,151.4 119.3,152.6 119.4,152.8 122.6,153.8 124.4,154.7 126.1,155.3 127.0,156.9 127.8,158.1 126.9,160.4 128.5,158.8 129.6,157.1 128.3,160.5 127.7,165.1 128.2,168.7 119.6,169.4 118.4,168.6 117.7,165.3 117.1,163.3 115.0,161.8 112.9,160.4 113.1,158.2 112.6,156.5 114.1,154.9 114.1,152.6" fill="#b9cfe6"/><polygon points="152.2,166.6 152.4,167.7 165.4,165.1 167.9,167.3 167.1,169.2 167.1,170.7 168.8,172.0 167.1,174.0 166.1,174.6 151.6,177.3 151.0,173.6 150.1,168.1" fill="#cedeee"/><polygon points="152.2,166.6 154.3,163.7 153.5,162.2 156.5,161.3 157.7,161.4 160.3,160.7 161.6,159.4 161.2,157.8 160.6,157.1 161.7,156.0 164.4,152.7 168.4,151.8 168.9,154.2 169.6,157.4 170.8,160.7 170.8,163.7 171.4,166.7 171.3,168.0 171.1,168.9 173.0,167.8 175.2,166.4 176.5,166.5 174.9,167.7 171.9,169.6 170.5,169.9 170.0,170.4 170.6,168.2 167.9,167.3 167.9,167.3 165.4,165.1 152.4,167.7" fill="#cedeee"/><polygon points="167.9,167.3 170.6,168.2 170.0,170.4 170.8,170.4 170.8,174.5 169.5,177.1 167.9,176.0 166.9,174.7 167.1,174.0 168.8,172.0 167.1,170.7 167.1,169.2" fill="#c1d5e9"/><polygon points="167.1,174.0 166.1,174.6 167.5,179.6 169.5,179.2 169.0,177.8 167.5,176.1" fill="#c1d5e9"/><polygon points="154.8,176.8 166.1,174.6 167.5,179.6 169.5,179.2 169.2,181.1 167.4,181.8 166.6,180.0 165.4,177.8 165.6,176.0 164.4,177.1 165.4,180.7 166.0,181.9 163.6,181.1 163.0,179.1 161.4,178.2 160.5,177.5 159.4,176.4 158.2,176.5 157.1,177.3 155.2,178.9" fill="#c1d5e9"/><polygon points="168.6,187.4 150.0,190.7 143.5,191.5 145.2,190.1 146.4,188.6 148.5,186.9 149.9,188.1 151.1,187.5 153.2,186.8 153.8,186.3 154.7,184.0 155.1,182.3 156.5,181.2 157.3,180.0 158.3,178.8 158.5,177.2 160.3,178.2 160.5,177.5 161.4,178.2 163.0,179.1 163.6,181.1 166.0,181.9 166.6,184.7 167.8,185.9" fill="#93b4d6"/><polygon points="169.2,181.1 168.1,181.6 167.8,185.3 168.4,183.4" fill="#93b4d6"/><polygon points="151.0,173.6 151.6,177.3 154.8,176.8 155.2,178.9 157.1,177.3 158.2,176.5 159.4,176.4 160.5,177.5 160.3,178.2 158.5,177.2 158.3,178.8 157.3,180.0 156.5,181.2 155.1,182.3 154.7,184.0 153.8,186.3 153.2,186.8 151.1,187.5 149.9,188.1 148.5,186.9 146.9,185.7 146.0,183.7 146.4,183.6 147.1,182.7 147.2,181.7 147.9,181.3 148.7,179.7 149.0,179.1 150.2,178.1 150.8,176.0" fill="#477fb5"/><polygon points="170.8,163.7 175.8,162.5 176.4,165.4 173.3,166.4 171.3,168.0 171.4,166.7" fill="#578abc"/><polygon points="175.8,162.6 177.0,162.3 178.2,164.1 177.3,165.0 176.4,165.4" fill="#b1cae2"/><polygon points="170.8,160.7 173.1,160.2 176.5,159.5 177.7,158.4 178.6,159.1 177.7,160.6 179.5,161.9 180.4,161.1 181.4,162.0 181.5,163.0 179.6,163.5 178.4,164.1 177.0,162.3 175.8,162.6 170.8,163.7" fill="#d3e1f0"/><polygon points="168.4,151.8 173.5,150.5 173.5,151.6 172.7,153.7 172.6,156.2 172.9,159.1 173.1,160.2 170.8,160.7 169.6,157.4 168.9,154.2" fill="#d6e3f2"/><polygon points="173.5,150.5 174.4,149.0 176.0,154.1 176.6,155.8 177.7,157.4 177.7,158.4 176.5,159.5 173.1,160.2 172.9,159.1 172.6,156.2 172.7,153.7 173.5,151.6" fill="#dbe7f4"/><polygon points="174.4,149.0 175.1,148.4 176.0,146.0 176.0,143.9 175.8,142.7 177.1,139.1 178.3,140.0 179.5,138.9 181.4,139.5 182.8,144.0 184.0,144.9 185.4,146.4 186.4,147.6 184.0,150.1 181.3,152.6 179.7,154.1 178.7,155.2 177.7,157.4 176.6,155.8 176.0,154.1" fill="#93b4d6"/></g><g fill="#e7e7e7" stroke="none"><polygon points="29.5,214.5 33.0,213.9 38.0,214.2 40.6,214.7 41.0,227.5 38.5,228.1 37.0,229.0 35.0,230.0 33.0,231.2 30.5,231.8 28.5,230.5 27.0,229.0 26.3,226.5 27.0,224.5 28.5,223.5 27.0,222.0 26.2,221.0 27.0,220.0 29.0,219.8 28.5,218.0 28.8,216.0"/><polygon points="71.2,233.2 72.8,232.2 74.6,233.4 75.2,235.0 73.8,236.2 72.0,236.0 71.0,234.8"/><polygon points="68.2,229.0 69.2,228.8 69.4,229.7 68.4,229.9"/><polygon points="66.0,227.7 66.9,227.5 67.1,228.3 66.2,228.5"/><polygon points="62.6,225.6 63.6,225.4 63.8,226.4 62.8,226.6"/><polygon points="57.1,223.1 58.1,222.9 58.3,223.9 57.3,224.1"/><polygon fill="#ededed" points="31.5,231.5 29.0,233.5 26.0,235.8 23.2,237.8 25.8,235.3 28.6,232.9 30.2,231.3"/><polygon fill="#ededed" points="41.0,227.4 44.0,228.7 47.0,230.3 50.0,231.7 52.6,232.9 52.4,233.4 49.8,232.3 46.8,230.9 43.8,229.3 40.8,228.0"/></g><g stroke="#ffffff" stroke-width="0.27" stroke-linejoin="round"><polygon points="47.2,290.0 32.1,286.1 32.0,289.4 31.2,293.0 29.7,293.0 31.1,289.8 29.7,289.0 26.2,287.0 25.9,288.9 26.1,293.0 25.5,295.8 27.7,296.9 28.4,299.2 30.4,300.0 32.7,300.2 34.5,300.9 38.0,300.6 39.1,300.6 44.8,301.9 44.8,300.2 47.2,290.0" fill="#6a978e"/><polygon points="25.5,295.8 27.7,296.9 28.4,299.2 30.4,300.0 32.7,300.2 34.5,300.9 38.0,300.6 39.1,300.6 44.8,301.9 45.6,303.8 44.1,305.9 42.5,308.5 42.5,310.6 40.9,317.8 32.2,315.7 19.9,312.3 20.0,308.7 21.3,306.7 24.2,300.7" fill="#b4cbc6"/><polygon points="19.9,312.3 32.2,315.7 29.1,327.7 42.3,347.6 43.4,350.8 40.8,354.0 40.2,356.8 32.0,355.8 30.7,351.2 28.9,350.0 27.6,348.4 25.3,346.3 22.4,344.8 22.6,341.8 21.3,338.4 20.7,335.7 20.0,333.3 20.2,330.4 19.0,327.9 18.0,323.3 17.5,318.3 19.0,316.3" fill="#97b6b0"/><polygon points="32.2,315.7 49.7,319.7 45.8,339.9 45.2,343.1 42.8,343.5 42.3,347.6 29.1,327.7" fill="#6a978e"/><polygon points="49.8,290.5 48.9,294.6 49.4,296.9 51.0,299.3 51.8,300.8 51.8,302.6 51.3,304.5 51.6,305.2 52.8,304.9 53.1,306.5 54.0,308.8 55.0,310.4 56.7,310.3 57.9,310.5 59.0,310.5 59.4,309.9 60.2,311.2 58.6,321.2 40.9,317.8 42.5,310.6 42.5,308.5 44.1,305.9 45.6,303.8 44.8,301.9 44.8,300.2 47.2,290.0" fill="#6a978e"/><polygon points="49.8,290.5 81.9,295.3 80.6,311.5 60.5,309.1 60.2,311.2 59.4,309.9 59.0,310.5 57.9,310.5 56.7,310.3 55.0,310.4 54.0,308.8 53.1,306.5 52.8,304.9 51.6,305.2 51.3,304.5 51.8,302.6 51.8,300.8 51.0,299.3 49.4,296.9 48.9,294.6 49.8,290.5" fill="#b4cbc6"/><polygon points="60.5,309.1 80.6,311.5 79.2,327.9 57.9,325.3" fill="#e6e6e6"/><polygon points="49.7,319.7 58.6,321.2 57.9,325.3 64.0,326.2 61.7,342.5 45.8,339.9" fill="#bcd0cc"/><polygon points="64.0,326.2 85.3,328.3 84.2,344.8 61.7,342.5" fill="#bcd0cc"/><polygon points="45.8,339.9 61.7,342.5 58.5,365.6 51.6,364.6 39.7,357.6 40.2,356.8 40.8,354.0 43.4,350.8 42.3,347.6 42.8,343.5 45.2,343.1 45.8,339.9" fill="#dce8e5"/><polygon points="61.7,342.5 81.2,344.6 79.4,365.1 67.2,364.0 67.4,364.9 61.7,364.2 61.5,366.0 58.5,365.6" fill="#c7d9d5"/><polygon points="81.9,295.3 100.4,296.2 100.9,300.3 101.4,304.3 102.1,307.2 102.2,308.7 80.9,307.7" fill="#cadbd7"/><polygon points="80.9,307.7 102.2,308.7 101.3,310.0 102.5,311.3 102.4,318.7 102.4,320.3 102.4,322.8 100.8,321.7 99.6,321.3 98.1,321.3 96.3,320.6 79.9,319.7" fill="#e6e6e6"/><polygon points="79.9,319.7 96.3,320.6 98.1,321.3 99.6,321.3 100.8,321.7 102.4,322.8 103.4,325.6 104.1,327.9 104.5,330.7 105.9,333.0 85.0,332.5 85.3,328.3 79.2,327.9" fill="#e6e6e6"/><polygon points="85.0,332.5 105.9,333.0 107.2,333.9 108.1,336.7 108.2,345.4 84.2,344.8" fill="#b7cdc9"/><polygon points="81.2,344.6 108.2,345.4 108.2,347.5 108.9,352.0 108.9,359.2 108.9,359.2 106.1,358.2 102.4,359.0 100.4,358.4 98.0,358.1 96.7,357.3 93.0,356.8 90.4,355.2 90.7,347.2 81.0,346.6" fill="#b4cbc6"/><polygon points="81.0,346.6 90.7,347.2 90.4,355.2 93.0,356.8 96.7,357.3 98.0,358.1 100.4,358.4 102.4,359.0 106.1,358.2 108.9,359.2 110.4,359.6 110.4,361.8 110.5,366.1 112.1,369.2 111.9,373.3 111.4,375.3 108.4,376.6 105.9,378.7 102.3,380.7 99.8,383.1 98.6,386.4 99.5,390.4 98.6,390.6 95.6,390.0 92.3,388.7 91.0,384.2 88.2,381.2 86.3,376.6 84.6,374.7 81.5,374.3 79.2,376.6 78.2,377.4 75.6,375.9 74.0,374.5 72.2,370.3 69.1,366.6 67.4,364.9 67.2,364.0 79.4,365.1" fill="#8fb1aa"/><polygon points="100.4,296.2 106.1,296.2 106.0,294.7 106.9,295.0 107.3,296.8 107.8,297.4 109.8,297.8 111.4,297.8 112.8,298.1 113.9,299.3 116.1,299.6 118.1,299.7 121.4,299.7 117.1,302.8 114.7,305.1 114.2,305.6 114.2,307.8 112.7,309.5 113.2,311.1 113.0,313.4 115.1,314.7 117.2,316.3 117.8,318.3 102.4,318.7 102.5,311.3 101.3,310.0 102.2,308.7 102.1,307.2 101.4,304.3 100.9,300.3" fill="#b0c8c3"/><polygon points="102.4,318.7 117.8,318.3 118.5,321.6 119.7,322.3 121.3,323.9 121.0,325.3 120.0,326.6 118.7,327.3 119.1,329.1 117.8,330.2 117.9,331.1 117.0,330.3 104.5,330.7 104.1,327.9 103.4,325.6 102.4,322.8 102.4,320.3" fill="#e4edeb"/><polygon points="104.5,330.7 117.0,330.3 117.9,331.1 117.9,333.1 119.4,335.1 122.2,337.2 122.1,338.3 122.5,340.7 124.6,342.2 125.9,344.6 125.0,346.8 124.4,348.9 122.2,349.0 122.8,346.9 108.2,347.5 108.2,345.4 108.1,336.7 107.2,333.9 105.9,333.0" fill="#a2bfb9"/><polygon points="108.2,347.5 122.8,346.9 122.2,349.0 124.4,348.9 123.2,351.4 122.6,353.1 122.1,354.4 120.9,357.3 120.0,359.4 120.2,361.5 110.4,361.8 110.4,359.6 108.9,359.2 108.9,352.0" fill="#e6e6e6"/><polygon points="110.4,361.8 120.2,361.5 121.1,364.3 119.5,367.3 119.1,369.8 125.6,369.4 125.5,371.0 126.5,372.6 127.4,373.0 127.5,374.2 128.5,376.6 127.3,377.5 124.8,376.8 122.3,377.6 119.7,375.9 117.2,375.8 113.3,375.1 111.4,375.3 111.9,373.3 112.1,369.2 110.5,366.1" fill="#d2e0dd"/><polygon points="122.6,353.1 122.1,354.4 120.9,357.3 120.0,359.4 120.2,361.5 121.1,364.3 119.5,367.3 119.1,369.8 125.6,369.4 125.5,371.0 126.5,372.6 128.3,371.7 130.5,371.7 129.6,363.7 130.0,353.0 129.6,352.6" fill="#e6e6e6"/><polygon points="129.6,352.6 138.2,351.8 140.6,360.4 142.1,367.9 133.0,368.8 133.6,371.6 131.9,372.0 130.5,371.7 129.6,363.7 130.0,353.0" fill="#c0d4cf"/><polygon points="138.2,351.8 146.4,350.8 147.3,352.7 148.8,354.6 151.0,356.5 153.5,359.7 155.5,361.7 154.9,364.1 154.5,367.4 152.7,369.2 152.0,368.4 142.7,369.0 142.1,367.9 140.6,360.4" fill="#c7d9d5"/><polygon points="133.6,371.6 133.0,368.8 142.1,367.9 142.7,369.0 152.0,368.4 152.7,369.2 154.5,367.4 155.5,370.6 159.1,375.8 161.4,380.8 162.4,385.6 162.1,388.5 160.7,389.3 159.3,389.7 156.6,386.9 154.9,384.7 153.4,382.9 151.7,380.2 151.2,375.4 149.8,374.5 147.1,371.8 145.3,371.3 142.7,373.4 141.4,373.3 139.5,371.5 137.1,371.1" fill="#97b6b0"/><polygon points="146.4,350.8 148.9,349.6 153.0,349.2 153.6,349.3 154.1,350.5 157.8,349.8 162.2,353.0 160.5,356.0 158.5,358.3 156.7,360.4 155.5,361.7 153.5,359.7 151.0,356.5 148.8,354.6 147.3,352.7" fill="#dfeae7"/><polygon points="150.1,343.6 149.0,345.8 147.5,346.7 145.5,347.8 144.1,348.8 143.2,350.2 142.4,351.3 146.4,350.8 148.9,349.6 153.0,349.2 153.6,349.3 154.1,350.5 157.8,349.8 162.2,353.0 164.1,352.7 164.6,350.7 168.1,348.3 170.9,345.4 170.1,342.8 168.7,340.4" fill="#7da49d"/><polygon points="125.0,346.8 129.6,346.4 129.4,345.7 143.6,344.5 150.1,343.6 149.0,345.8 147.5,346.7 145.5,347.8 144.1,348.8 143.2,350.2 142.4,351.3 138.2,351.8 129.6,352.6 122.6,353.1 123.2,351.4 124.4,348.9" fill="#d2e0dd"/><polygon points="125.0,346.8 125.9,344.6 127.6,344.1 129.1,342.5 129.2,341.1 130.6,340.3 132.2,340.9 133.7,340.0 135.4,339.6 136.2,338.4 137.1,336.6 138.8,336.0 138.8,334.7 139.8,334.6 140.9,335.7 143.1,336.0 144.6,335.5 146.1,336.7 147.0,338.6 148.6,339.9 146.5,341.6 145.3,343.0 143.6,344.5 129.4,345.7 129.6,346.4" fill="#88aca5"/><polygon points="119.7,322.3 121.3,323.9 121.0,325.3 120.0,326.6 118.7,327.3 119.1,329.1 117.8,330.2 117.9,331.1 117.9,333.1 119.4,335.1 122.2,337.2 122.1,338.3 122.5,340.7 124.6,342.2 125.9,344.6 127.6,344.1 129.1,342.5 129.2,341.1 129.9,338.5 130.2,334.6 129.3,324.7 128.3,321.7" fill="#c6d8d4"/><polygon points="129.3,324.7 137.5,323.8 138.8,334.7 138.8,336.0 137.1,336.6 136.2,338.4 135.4,339.6 133.7,340.0 132.2,340.9 130.6,340.3 129.2,341.1 129.9,338.5 130.2,334.6" fill="#bcd0cc"/><polygon points="137.6,324.1 141.6,323.4 144.0,324.1 147.0,323.6 150.2,321.1 151.1,326.6 150.9,329.0 150.3,331.0 149.1,332.1 148.8,332.6 148.0,334.3 147.3,334.6 147.2,335.7 146.5,336.5 146.1,336.7 144.6,335.5 143.1,336.0 140.9,335.7 139.8,334.6 138.8,334.7" fill="#dfeae7"/><polygon points="137.5,323.8 141.6,323.4 142.4,322.2 143.9,319.5 143.9,317.8 143.1,315.5 141.8,313.8 140.4,315.6 139.3,316.0 140.2,314.2 140.4,311.3 139.5,308.7 135.8,307.4 135.2,309.1 133.7,311.3 133.7,310.0 131.9,312.3 131.7,315.4 132.7,319.2 132.5,322.5 131.5,324.5" fill="#a1beb8"/><polygon points="119.5,305.7 122.7,306.7 124.5,307.6 126.2,308.3 127.1,309.9 127.9,311.0 129.2,308.2 130.2,308.4 133.5,306.8 135.8,306.7 138.0,306.2 136.4,304.6 134.7,303.5 133.2,303.9 130.5,305.1 127.9,305.1 125.3,303.9 126.2,301.5 122.0,304.1" fill="#a1beb8"/><polygon points="114.2,305.6 114.7,305.4 118.3,304.4 119.4,305.5 119.5,305.7 122.7,306.7 124.5,307.6 126.2,308.3 127.1,309.9 127.9,311.0 127.0,313.4 128.6,311.8 129.7,310.0 128.4,313.5 127.8,318.0 128.3,321.7 119.7,322.3 118.5,321.6 117.8,318.3 117.2,316.3 115.1,314.7 113.0,313.4 113.2,311.1 112.7,309.5 114.2,307.8 114.2,305.6" fill="#dfeae7"/><polygon points="152.3,319.6 152.5,320.6 165.5,318.1 168.0,320.3 167.2,322.1 167.2,323.6 168.9,324.9 167.2,327.0 166.2,327.5 151.7,330.3 151.1,326.6 150.2,321.1" fill="#9ebcb6"/><polygon points="152.3,319.6 154.4,316.6 153.6,315.1 156.6,314.3 157.8,314.3 160.4,313.7 161.7,312.4 161.3,310.8 160.7,310.1 161.8,309.0 164.5,305.7 168.5,304.8 169.0,307.2 169.7,310.4 170.9,313.7 170.9,316.6 171.5,319.7 171.4,320.9 171.2,321.8 173.1,320.7 175.3,319.4 176.6,319.4 175.0,320.7 172.0,322.6 170.6,322.8 170.1,323.4 170.7,321.1 168.0,320.3 168.0,320.3 165.5,318.1 152.5,320.6" fill="#a2bfb9"/><polygon points="168.0,320.3 170.7,321.1 170.1,323.4 170.9,323.4 170.9,327.4 169.6,330.0 168.0,328.9 167.0,327.7 167.2,327.0 168.9,324.9 167.2,323.6 167.2,322.1" fill="#b4cbc6"/><polygon points="167.2,327.0 166.2,327.5 167.6,332.6 169.6,332.2 169.1,330.8 167.6,329.0" fill="#adc6c1"/><polygon points="154.9,329.8 166.2,327.5 167.6,332.6 169.6,332.2 169.3,334.0 167.5,334.7 166.7,333.0 165.5,330.7 165.7,329.0 164.5,330.1 165.5,333.7 166.1,334.8 163.7,334.1 163.1,332.1 161.5,331.1 160.6,330.5 159.5,329.4 158.3,329.4 157.2,330.3 155.3,331.9" fill="#80a69f"/><polygon points="168.7,340.4 150.1,343.6 143.6,344.5 145.3,343.0 146.5,341.6 148.6,339.9 150.0,341.1 151.2,340.5 153.3,339.7 153.9,339.2 154.8,337.0 155.2,335.2 156.6,334.1 157.4,332.9 158.4,331.7 158.6,330.2 160.4,331.2 160.6,330.5 161.5,331.1 163.1,332.1 163.7,334.1 166.1,334.8 166.7,337.6 167.9,338.9" fill="#c7d9d5"/><polygon points="169.3,334.0 168.2,334.6 167.9,338.2 168.5,336.4" fill="#c7d9d5"/><polygon points="151.1,326.6 151.7,330.3 154.9,329.8 155.3,331.9 157.2,330.3 158.3,329.4 159.5,329.4 160.6,330.5 160.4,331.2 158.6,330.2 158.4,331.7 157.4,332.9 156.6,334.1 155.2,335.2 154.8,337.0 153.9,339.2 153.3,339.7 151.2,340.5 150.0,341.1 148.6,339.9 147.0,338.6 146.1,336.7 146.5,336.5 147.2,335.7 147.3,334.6 148.0,334.3 148.8,332.6 149.1,332.1 150.3,331.0 150.9,329.0" fill="#92b3ac"/><polygon points="170.9,316.6 175.9,315.5 176.5,318.3 173.4,319.4 171.4,320.9 171.5,319.7" fill="#bcd0cc"/><polygon points="175.9,315.5 177.1,315.2 178.3,317.1 177.4,317.9 176.5,318.3" fill="#bcd0cc"/><polygon points="170.9,313.7 173.2,313.2 176.6,312.4 177.8,311.3 178.7,312.1 177.8,313.6 179.6,314.8 180.5,314.1 181.5,314.9 181.6,316.0 179.7,316.5 178.5,317.0 177.1,315.2 175.9,315.5 170.9,316.6" fill="#b4cbc6"/><polygon points="168.5,304.8 173.6,303.5 173.6,304.5 172.8,306.6 172.7,309.2 173.0,312.1 173.2,313.2 170.9,313.7 169.7,310.4 169.0,307.2" fill="#bcd0cc"/><polygon points="173.6,303.5 174.5,302.0 176.1,307.0 176.7,308.8 177.8,310.4 177.8,311.3 176.6,312.4 173.2,313.2 173.0,312.1 172.7,309.2 172.8,306.6 173.6,304.5" fill="#3e776c"/><polygon points="174.5,302.0 175.2,301.4 176.1,299.0 176.1,296.9 175.9,295.6 177.2,292.1 178.4,292.9 179.6,291.8 181.5,292.5 182.9,297.0 184.1,297.9 185.5,299.4 186.5,300.6 184.1,303.1 181.4,305.5 179.8,307.1 178.8,308.2 177.8,310.4 176.7,308.8 176.1,307.0" fill="#bcd0cc"/></g><g fill="#e7e7e7" stroke="none"><polygon points="29.6,367.5 33.1,366.9 38.1,367.2 40.7,367.7 41.1,380.5 38.6,381.1 37.1,382.0 35.1,383.0 33.1,384.2 30.6,384.8 28.6,383.5 27.1,382.0 26.4,379.5 27.1,377.5 28.6,376.5 27.1,375.0 26.3,374.0 27.1,373.0 29.1,372.8 28.6,371.0 28.9,369.0"/><polygon points="71.3,386.2 72.9,385.2 74.7,386.4 75.3,388.0 73.9,389.2 72.1,389.0 71.1,387.8"/><polygon points="68.3,382.0 69.3,381.8 69.5,382.7 68.5,382.9"/><polygon points="66.1,380.7 67.0,380.5 67.2,381.3 66.3,381.5"/><polygon points="62.7,378.6 63.7,378.4 63.9,379.4 62.9,379.6"/><polygon points="57.2,376.1 58.2,375.9 58.4,376.9 57.4,377.1"/><polygon fill="#ededed" points="31.6,384.5 29.1,386.5 26.1,388.8 23.3,390.8 25.9,388.3 28.7,385.9 30.3,384.3"/><polygon fill="#ededed" points="41.1,380.4 44.1,381.7 47.1,383.3 50.1,384.7 52.7,385.9 52.5,386.4 49.9,385.3 46.9,383.9 43.9,382.3 40.9,381.0"/></g><text x="186.80" y="235.11" font-size="4.02" text-anchor="end" fill="#4a4a4a" font-weight="400">Powered by Bing</text><text x="186.80" y="240.90" font-size="4.0" text-anchor="end" fill="#4a4a4a" font-weight="400">© DSAT Editor, DSAT for MSFT, GeoNames, Navteq</text><text x="186.80" y="388.11" font-size="4.02" text-anchor="end" fill="#4a4a4a" font-weight="400">Powered by Bing</text><text x="186.80" y="393.90" font-size="4.0" text-anchor="end" fill="#4a4a4a" font-weight="400">© DSAT Editor, DSAT for MSFT, GeoNames, Navteq</text></svg>
</body></html>
